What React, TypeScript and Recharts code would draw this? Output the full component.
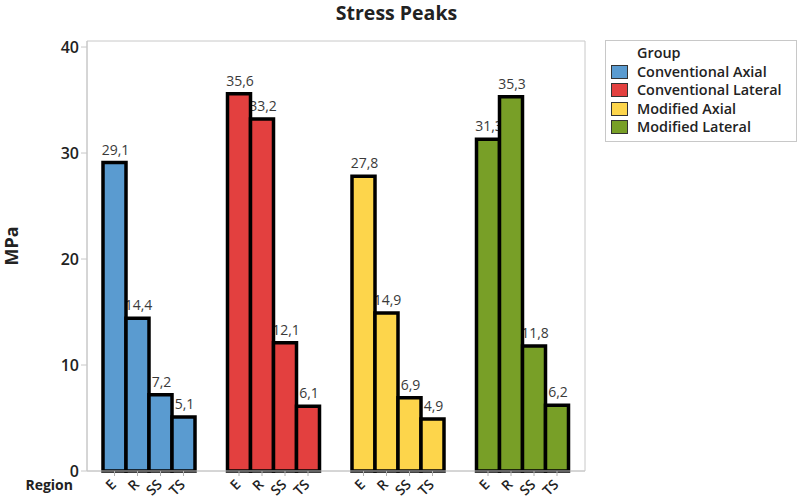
import React from 'react';
import { BarChart, Bar, XAxis, YAxis, Cell, LabelList, Legend, ReferenceArea } from 'recharts';

const GROUPS = ['Conventional Axial', 'Conventional Lateral', 'Modified Axial', 'Modified Lateral'];
const REGIONS = ['E', 'R', 'SS', 'TS'];
const E_VALUES = [29.1, 35.6, 27.8, 31.3];
const R_VALUES = [14.4, 33.2, 14.9, 35.3];
const SS_VALUES = [7.2, 12.1, 6.9, 11.8];
const TS_VALUES = [5.1, 6.1, 4.9, 6.2];
const Y_TICKS = [0, 10, 20, 30, 40];

const COLORS = ['#5a9bd0', '#e3403f', '#fdd54b', '#789f27'];
const FONT = '"Open Sans", "Noto Sans", sans-serif';
const W = 800;
const H = 500;
const Y_MAX = 40.57;
const MARGIN = { top: 41, right: 215, bottom: 0, left: 0 };

const data = GROUPS.map((group, i) => ({
  group,
  E: E_VALUES[i],
  R: R_VALUES[i],
  SS: SS_VALUES[i],
  TS: TS_VALUES[i],
}));

const fmt = (v: number) => v.toFixed(1).replace('.', ',');

// rotated region name + small tick under each bar
const regionTick = (name: string) => (props: any) => {
  const { x, y, width, height } = props;
  const cx = Number(x) + Number(width) / 2;
  const bottom = Number(y) + Number(height);
  return (
    <g>
      <line x1={cx} y1={bottom} x2={cx} y2={bottom + 5} stroke="#b0b0b0" />
      <g transform={`translate(${cx - 1}, ${bottom + 11}) rotate(-45)`}>
        <text x={0} y={0} dy="0.35em" textAnchor="end" fontFamily={FONT} fontSize={14} fontWeight={600} fill="#222">
          {name}
        </text>
      </g>
    </g>
  );
};

const MpaLabel = (props: any) => {
  const vb = props.viewBox || {};
  const cx = 11;
  const cy = Number(vb.y) + Number(vb.height) / 2 - 10;
  return (
    <text
      x={cx}
      y={cy}
      transform={`rotate(-90, ${cx}, ${cy})`}
      textAnchor="middle"
      dominantBaseline="central"
      fontFamily={FONT}
      fontSize={18}
      fontWeight={700}
      fill="#222"
    >
      MPa
    </text>
  );
};

const GroupLegend = () => (
  <div
    style={{
      border: '1px solid #c8c8c8',
      padding: '3px 4px 4px 5px',
      fontFamily: FONT,
      fontSize: 14.4,
      fontWeight: 600,
      color: '#222',
      lineHeight: '18.5px',
      background: '#fff',
      whiteSpace: 'nowrap',
    }}
  >
    <div style={{ paddingLeft: 26 }}>Group</div>
    {GROUPS.map((g, i) => (
      <div key={g} style={{ display: 'flex', alignItems: 'center' }}>
        <span
          style={{
            width: 17,
            height: 14,
            background: COLORS[i],
            border: '1px solid #333',
            marginRight: 9,
            boxSizing: 'border-box',
          }}
        />
        {g}
      </div>
    ))}
  </div>
);

const axes = (visible: boolean) => [
  <XAxis
    key="x"
    dataKey="group"
    height={29}
    tick={false}
    tickLine={false}
    axisLine={visible ? { stroke: '#c8c8c8' } : false}
    label={
      visible
        ? { value: 'Region', position: 'left', offset: 14, fontFamily: FONT, fontSize: 14, fontWeight: 700, fill: '#222' }
        : undefined
    }
  />,
  <YAxis
    key="y"
    width={87}
    domain={[0, Y_MAX]}
    ticks={Y_TICKS}
    tick={visible ? { fontFamily: FONT, fontSize: 16, fontWeight: 600, fill: '#222' } : false}
    tickLine={visible ? { stroke: '#c8c8c8' } : false}
    tickSize={6}
    axisLine={visible ? { stroke: '#c8c8c8' } : false}
    label={visible ? { content: <MpaLabel /> } : undefined}
  />,
];

export default function App() {
  return (
    <div style={{ position: 'absolute', left: 0, top: 0, width: W, height: H, background: '#fff' }}>
      <div
        style={{
          position: 'absolute',
          left: 0,
          top: 0,
          width: 793,
          textAlign: 'center',
          fontFamily: FONT,
          fontSize: 19.5,
          fontWeight: 700,
          color: '#222',
          lineHeight: '26px',
        }}
      >
        Stress Peaks
      </div>

      {/* value labels sit underneath the bars, like the original */}
      <div style={{ position: 'absolute', left: 0, top: 0 }}>
        <BarChart width={W} height={H} data={data} margin={MARGIN} barGap={0} barCategoryGap={16}>
          {axes(false)}
          {REGIONS.map((r) => (
            <Bar key={r} dataKey={r} fill="transparent" isAnimationActive={false}>
              <LabelList
                dataKey={r}
                position="top"
                offset={8}
                dx={1}
                formatter={(v: any) => fmt(Number(v))}
                fontFamily={FONT}
                fontSize={14}
                fill="#3a3a3a"
              />
            </Bar>
          ))}
        </BarChart>
      </div>

      <div style={{ position: 'absolute', left: 0, top: 0 }}>
        <BarChart width={W} height={H} data={data} margin={MARGIN} barGap={0} barCategoryGap={16}>
          <ReferenceArea y1={0} y2={Y_MAX} fill="none" stroke="#c8c8c8" ifOverflow="extendDomain" />
          {axes(true)}
          <Legend
            layout="vertical"
            align="center"
            verticalAlign="middle"
            content={<GroupLegend />}
            wrapperStyle={{ left: 605, top: 40, width: 192 }}
          />
          {REGIONS.map((r) => (
            <Bar key={r} dataKey={r} stroke="#000" strokeWidth={3.5} isAnimationActive={false}>
              {GROUPS.map((g, i) => (
                <Cell key={g} fill={COLORS[i]} />
              ))}
              <LabelList dataKey={r} content={regionTick(r)} />
            </Bar>
          ))}
        </BarChart>
      </div>
    </div>
  );
}
